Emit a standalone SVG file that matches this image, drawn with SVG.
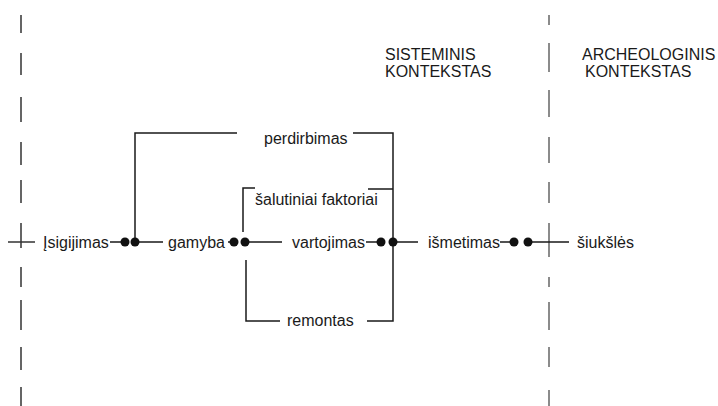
<svg xmlns="http://www.w3.org/2000/svg" width="718" height="406" viewBox="0 0 718 406">
<style>
text{font-family:"Liberation Sans",Arial,sans-serif;font-size:16px;fill:#1a1a1a}
.ln{stroke:#1a1a1a;stroke-width:1.5;fill:none}
.dash{stroke:#333;stroke-width:1.5;fill:none}
.dash2{stroke:#666;stroke-width:1.5;fill:none}
.dot{fill:#111}
</style>
<rect width="718" height="406" fill="#fff"/>
<g id="boundaries">
<path class="dash" d="M21 15V33M21 53V75M21 97V122M21 142V165M21 180V203M21 223V248M21 267V287M21 300V330M21 347V370M21 387V406M8 242H35"/>
<path class="dash2" d="M549 15V25M549 43V72M549 90V117M549 137V163M549 182V203M549 223V257M549 277V287M549 302V330M549 347V367M549 390V406"/>
</g>
<g id="headers">
<text x="385" y="60">SISTEMINIS</text>
<text x="385" y="77">KONTEKSTAS</text>
<text x="582" y="60">ARCHEOLOGINIS</text>
<text x="585" y="77">KONTEKSTAS</text>
</g>
<g id="connectors">
<path class="ln" d="M110 242H125M135 242H163"/>
<path class="ln" d="M228 242H234M245 242H282"/>
<path class="ln" d="M366 242H381M393 242H418"/>
<path class="ln" d="M500 242H514M528 242H569"/>
<path class="ln" d="M135 242V133H237M353 133H393V321H367"/>
<path class="ln" d="M243 232V188H255M368 189H393"/>
<path class="ln" d="M246 260V321H280"/>
<circle class="dot" cx="125" cy="242" r="4.5"/>
<circle class="dot" cx="135" cy="242" r="4.5"/>
<circle class="dot" cx="234" cy="242" r="4.5"/>
<circle class="dot" cx="245" cy="242" r="4.5"/>
<circle class="dot" cx="381" cy="242" r="4.5"/>
<circle class="dot" cx="393" cy="242" r="4.5"/>
<circle class="dot" cx="514" cy="242" r="4.5"/>
<circle class="dot" cx="528" cy="242" r="4.5"/>
</g>
<g id="isigijimas"><text x="43" y="248">Įsigijimas</text></g>
<g id="gamyba"><text x="168" y="248">gamyba</text></g>
<g id="vartojimas"><text x="292" y="248">vartojimas</text></g>
<g id="ismetimas"><text x="428" y="248">išmetimas</text></g>
<g id="siuksles"><text x="577" y="248">šiukšlės</text></g>
<g id="perdirbimas"><text x="264" y="144">perdirbimas</text></g>
<g id="salutiniai"><text x="255" y="205">šalutiniai faktoriai</text></g>
<g id="remontas"><text x="287" y="326">remontas</text></g>
</svg>
